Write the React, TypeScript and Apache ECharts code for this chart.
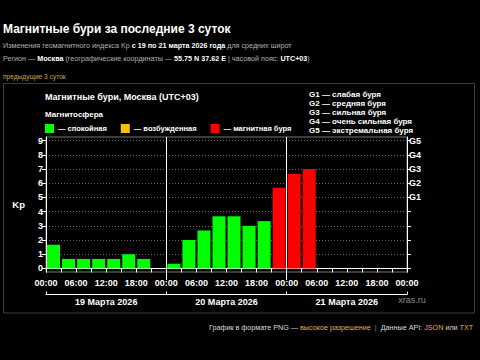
import React, { useEffect, useRef } from "react";
import * as echarts from "echarts";

const kpDay19 = [1.67, 0.67, 0.67, 0.67, 0.67, 1.0, 0.67, null];
const kpDay20 = [0.33, 2.0, 2.67, 3.67, 3.67, 3.0, 3.33, 5.67];
const kpDay21 = [6.67, 7.0, null, null, null, null, null, null];
const dayLabels = ["19 Марта 2026", "20 Марта 2026", "21 Марта 2026"];
const kpTicks = [0, 1, 2, 3, 4, 5, 6, 7, 8, 9];
const gLevels = [5, 6, 7, 8, 9];
const gLabels = ["G1", "G2", "G3", "G4", "G5"];
const gLegend = [
  "G1 — слабая буря",
  "G2 — средняя буря",
  "G3 — сильная буря",
  "G4 — очень сильная буря",
  "G5 — экстремальная буря",
];
const stateNames = ["спокойная", "возбужденная", "магнитная буря"];
const stateColors = ["#00ff00", "#ffbf00", "#ff0000"];

const FONT = "'Liberation Sans', Arial, sans-serif";

export default function App() {
  const ref = useRef<HTMLDivElement>(null);
  useEffect(() => {
    document.body.style.margin = "0";
    document.body.style.background = "#000";
    const chart = echarts.init(ref.current!, null, { renderer: "svg" });
    const allKp = [...kpDay19, ...kpDay20, ...kpDay21];
    const pts = (lo: number, hi: number) =>
      allKp
        .map((v, i) => (v != null && v >= lo && v < hi ? [i * 3 + 1.5, v] : null))
        .filter((p) => p !== null);
    const pad = (n: number) => (n < 10 ? "0" + n : "" + n) + ":00";
    const txt = (size: number, weight: string, fill: string) => ({
      fontSize: size,
      fontWeight: weight,
      fontFamily: FONT,
      fill,
    });
    chart.setOption({
      animation: false,
      backgroundColor: "#000",
      textStyle: { fontFamily: FONT },
      legend: {
        left: 45,
        top: 124,
        padding: 0,
        itemWidth: 9,
        itemHeight: 9,
        itemGap: 14,
        icon: "rect",
        selectedMode: false,
        data: stateNames,
        formatter: (n: string) => "— " + n,
        textStyle: { color: "#fff", fontSize: 7.5, fontWeight: "bold", fontFamily: FONT, padding: [0, 0, 0, -1] },
      },
      grid: [
        { left: 46, right: 73, top: 137, bottom: 88, show: true, borderColor: "#777", borderWidth: 1, backgroundColor: "transparent" },
        { left: 46, right: 73, top: 280, bottom: 65.5, show: false },
        { left: 46, right: 73, top: 137, bottom: 80, show: false },
      ],
      xAxis: [
        {
          type: "value",
          gridIndex: 0,
          min: 0,
          max: 72,
          interval: 6,
          axisLine: { show: true, lineStyle: { color: "#fff" } },
          axisTick: { show: true, length: 4, lineStyle: { color: "#fff" } },
          minorTick: { show: true, splitNumber: 2, length: 4, lineStyle: { color: "#fff" } },
          splitLine: { show: false },
          axisLabel: {
            color: "#fff",
            fontSize: 9,
            fontWeight: "bold",
            fontFamily: FONT,
            margin: 6,
            formatter: (v: number) => pad(v % 24),
          },
        },
        {
          type: "value",
          gridIndex: 1,
          min: 0,
          max: 72,
          axisLine: { show: true, lineStyle: { color: "#fff" } },
          axisTick: { show: true, inside: true, length: 3, customValues: [0, 24, 48, 72], lineStyle: { color: "#fff" } },
          splitLine: { show: false },
          axisLabel: {
            customValues: [12, 36, 60],
            color: "#fff",
            fontSize: 9,
            fontWeight: "bold",
            fontFamily: FONT,
            margin: 3,
            formatter: (v: number) => dayLabels[Math.round((v - 12) / 24)],
          },
        },
        {
          type: "value",
          gridIndex: 2,
          min: 0,
          max: 72,
          interval: 24,
          axisLine: { show: false },
          axisTick: { show: false },
          axisLabel: { show: false },
          splitLine: { show: true, showMinLine: false, showMaxLine: false, lineStyle: { color: "#fff", width: 1 } },
        },
      ],
      yAxis: [
        {
          type: "value",
          gridIndex: 0,
          min: -0.25,
          max: 9.25,
          name: "Kp",
          nameLocation: "middle",
          nameRotate: 0,
          nameGap: 21,
          nameTextStyle: { color: "#fff", fontSize: 9.5, fontWeight: "bold", fontFamily: FONT },
          axisLine: { show: true, lineStyle: { color: "#fff" } },
          axisTick: { show: true, length: 4, customValues: kpTicks, lineStyle: { color: "#fff" } },
          axisLabel: { customValues: kpTicks, color: "#fff", fontSize: 9, fontWeight: "bold", fontFamily: FONT, margin: 3 },
          splitLine: { show: true, lineStyle: { color: "#666", type: [1, 2], width: 1 } },
        },
        {
          type: "value",
          gridIndex: 0,
          position: "right",
          min: -0.25,
          max: 9.25,
          axisLine: { show: true, lineStyle: { color: "#fff" } },
          axisTick: { show: true, length: 4, customValues: kpTicks, lineStyle: { color: "#fff" } },
          axisLabel: {
            customValues: gLevels,
            color: "#fff",
            fontSize: 9,
            fontWeight: "bold",
            fontFamily: FONT,
            margin: 2,
            formatter: (v: number) => gLabels[gLevels.indexOf(Math.round(v))],
          },
          splitLine: { show: false },
        },
        { type: "value", gridIndex: 1, show: false },
        { type: "value", gridIndex: 2, show: false },
      ],
      series: stateNames.map((name, k) => ({
        name,
        type: "bar",
        xAxisIndex: 0,
        yAxisIndex: 0,
        barWidth: 13,
        barGap: "-100%",
        itemStyle: { color: stateColors[k] },
        data: k === 0 ? pts(-1, 4) : k === 1 ? pts(4, 5) : pts(5, 10),
        z: 3,
      })),
      graphic: [
        {
          type: "rect",
          shape: { x: 3.5, y: 83.5, width: 471, height: 229.5 },
          style: { fill: "none", stroke: "#3c3c3c", lineWidth: 1 },
          silent: true,
        },
        {
          type: "text",
          x: 3,
          y: 29,
          style: { text: "Магнитные бури за последние 3 суток", ...txt(12, "bold", "#fff"), verticalAlign: "middle" },
        },
        {
          type: "text",
          x: 3,
          y: 45,
          style: {
            text: "{g|Изменения геомагнитного индекса Kp }{w|с 19 по 21 марта 2026 года}{g| для средних широт}",
            verticalAlign: "middle",
            rich: { g: txt(7.2, "normal", "#b0b0b0"), w: txt(7.2, "bold", "#fff") },
          },
        },
        {
          type: "text",
          x: 3,
          y: 58,
          style: {
            text: "{g|Регион — }{w|Москва}{g| (географические координаты — }{w|55.75 N 37.62 E}{g| | часовой пояс: }{w|UTC+03}{g|)}",
            verticalAlign: "middle",
            rich: { g: txt(7.2, "normal", "#b0b0b0"), w: txt(7.2, "bold", "#fff") },
          },
        },
        {
          type: "text",
          x: 3,
          y: 76,
          style: { text: "предыдущие 3 суток", ...txt(6.6, "normal", "#c9a45a"), verticalAlign: "middle" },
        },
        {
          type: "text",
          x: 45,
          y: 97,
          style: { text: "Магнитные бури, Москва (UTC+03)", ...txt(9, "bold", "#fff"), verticalAlign: "middle" },
        },
        {
          type: "text",
          x: 45,
          y: 114,
          style: { text: "Магнитосфера", ...txt(8, "bold", "#fff"), verticalAlign: "middle" },
        },
        {
          type: "text",
          x: 309,
          y: 90,
          style: { text: gLegend.join("\n"), ...txt(8, "bold", "#fff"), lineHeight: 9, verticalAlign: "top" },
        },
        {
          type: "text",
          x: 412,
          y: 300,
          style: { text: "xras.ru", ...txt(9, "normal", "#8a8a8a"), align: "center", verticalAlign: "middle" },
        },
        {
          type: "text",
          x: 209,
          y: 327,
          style: {
            text: "{w|График в формате PNG — }{y|высокое разрешение}{g|  |  }{w|Данные API: }{y|JSON}{w| или }{y|TXT}",
            verticalAlign: "middle",
            rich: { w: txt(7.2, "normal", "#ddd"), y: txt(7.2, "normal", "#e0b050"), g: txt(7.2, "normal", "#888") },
          },
        },
      ],
    });
    return () => chart.dispose();
  }, []);
  return (
    <div
      ref={ref}
      style={{ position: "fixed", left: 0, top: 0, width: 480, height: 360, background: "#000" }}
    />
  );
}
